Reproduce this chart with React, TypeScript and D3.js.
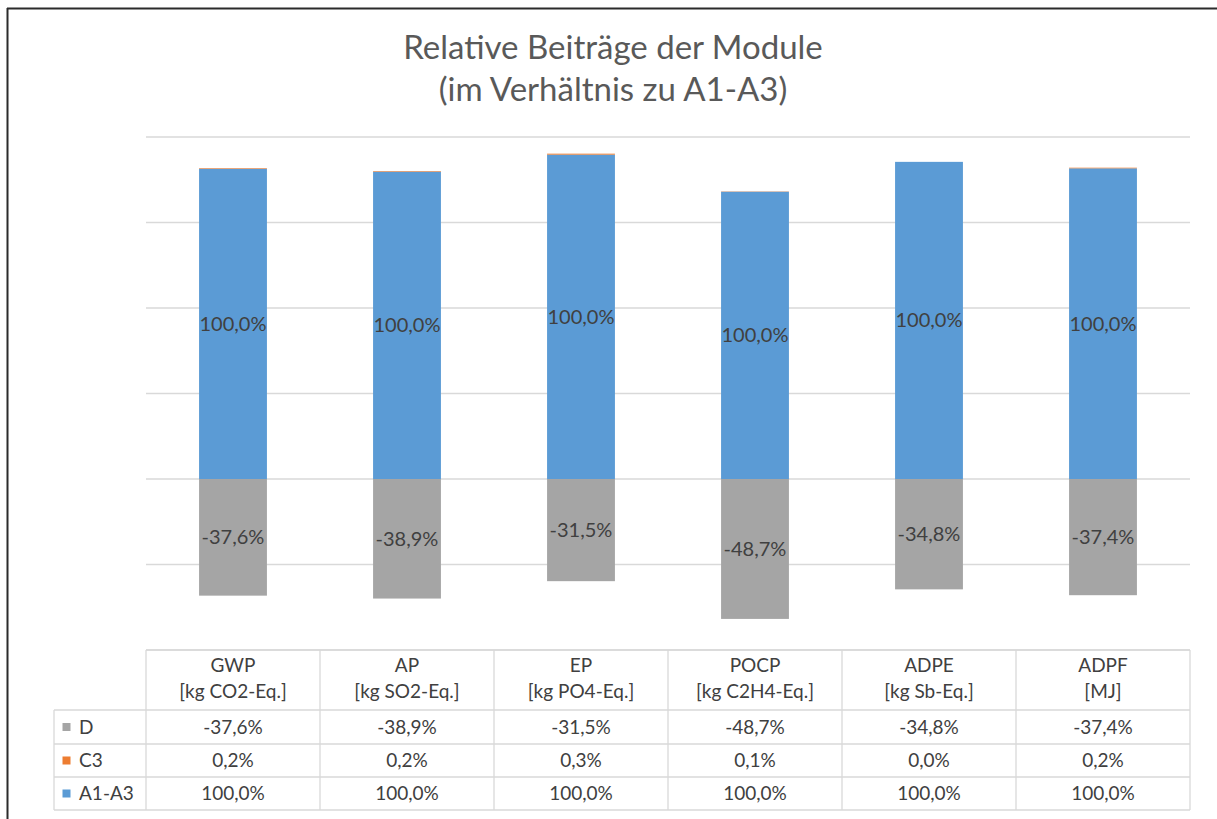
import React from "react";
import * as d3 from "d3";

const categories = ["GWP", "AP", "EP", "POCP", "ADPE", "ADPF"];
const units = ["[kg CO2-Eq.]", "[kg SO2-Eq.]", "[kg PO4-Eq.]", "[kg C2H4-Eq.]", "[kg Sb-Eq.]", "[MJ]"];
const seriesA1A3 = [100.0, 100.0, 100.0, 100.0, 100.0, 100.0];
const seriesC3 = [0.2, 0.2, 0.3, 0.1, 0.0, 0.2];
const seriesD = [-37.6, -38.9, -31.5, -48.7, -34.8, -37.4];
const gridTicks = [-0.4, -0.2, 0, 0.2, 0.4, 0.6, 0.8];
const title = ["Relative Beiträge der Module", "(im Verhältnis zu A1-A3)"];

const COLORS = { A: "#5B9BD5", C: "#ED7D31", D: "#A5A5A5" };
const FONT = "Lato, 'Open Sans', sans-serif";
const fmt = (v: number) => v.toFixed(1).replace(".", ",") + "%";

export default function App() {
  const W = 1217, H = 819;
  const left = 146, right = 1190;
  const x = d3.scaleBand().domain(categories).range([left, right]).paddingInner(0.61).paddingOuter(0.305);
  const y = d3.scaleLinear().domain([-0.4, 0.8]).range([650, 137]);
  const colW = (right - left) / categories.length;

  const rows = categories.map((c, i) => {
    const total = Math.abs(seriesA1A3[i]) + Math.abs(seriesC3[i]) + Math.abs(seriesD[i]);
    const a = seriesA1A3[i] / total;
    const cc = seriesC3[i] / total;
    const dd = seriesD[i] / total;
    return { c, a, cc, dd };
  });

  const tableRows = [
    { name: "D", color: COLORS.D, vals: seriesD },
    { name: "C3", color: COLORS.C, vals: seriesC3 },
    { name: "A1-A3", color: COLORS.A, vals: seriesA1A3 },
  ];
  const rowY = [710, 744, 777, 810];
  const labelLeft = 54;

  return (
    <svg width={W} height={H} style={{ position: "absolute", left: 0, top: 0, background: "#fff" }} fontFamily={FONT}>
      <rect x={0} y={0} width={W} height={H} fill="#fff" />
      <line x1={7} x2={W} y1={8.5} y2={8.5} stroke="#2b2b2b" strokeWidth={2} />
      <line x1={7.5} x2={7.5} y1={8} y2={H} stroke="#2b2b2b" strokeWidth={2} />
      {title.map((t, i) => (
        <text key={i} x={613} y={59 + i * 42} textAnchor="middle" fontSize={33} fill="#595959">{t}</text>
      ))}
      {gridTicks.map((t) => (
        <line key={t} x1={left} x2={right} y1={y(t)} y2={y(t)} stroke="#D9D9D9" strokeWidth={1.3} />
      ))}
      {rows.map((r) => {
        const bx = x(r.c)!;
        const bw = x.bandwidth();
        return (
          <g key={r.c}>
            <rect x={bx} y={y(r.a)} width={bw} height={y(0) - y(r.a)} fill={COLORS.A} />
            <rect x={bx} y={y(r.a + r.cc)} width={bw} height={Math.max(y(r.a) - y(r.a + r.cc), 0)} fill={COLORS.C} />
            <rect x={bx} y={y(0)} width={bw} height={y(r.dd) - y(0)} fill={COLORS.D} />
          </g>
        );
      })}
      {rows.map((r, i) => {
        const cx = x(r.c)! + x.bandwidth() / 2;
        return (
          <g key={"l" + r.c} fontSize={20} fill="#404040" textAnchor="middle">
            <text x={cx} y={y(r.a / 2)} dy="0.35em">{fmt(seriesA1A3[i])}</text>
            <text x={cx} y={y(r.dd / 2)} dy="0.35em">{fmt(seriesD[i])}</text>
          </g>
        );
      })}
      {/* data table */}
      <g stroke="#D9D9D9" strokeWidth={1.3} fill="none">
        <line x1={left} x2={right} y1={650} y2={650} />
        {rowY.map((ry) => (
          <line key={ry} x1={labelLeft} x2={right} y1={ry} y2={ry} />
        ))}
        <line x1={labelLeft} x2={labelLeft} y1={rowY[0]} y2={rowY[3]} />
        {d3.range(categories.length + 1).map((k) => (
          <line key={k} x1={left + k * colW} x2={left + k * colW} y1={650} y2={rowY[3]} />
        ))}
      </g>
      {categories.map((c, i) => {
        const cx = left + colW * (i + 0.5);
        return (
          <g key={"h" + c} fontSize={19} fill="#404040" textAnchor="middle">
            <text x={cx} y={672}>{c}</text>
            <text x={cx} y={698}>{units[i]}</text>
          </g>
        );
      })}
      {tableRows.map((tr, ri) => {
        const cyMid = (rowY[ri] + rowY[ri + 1]) / 2;
        return (
          <g key={tr.name} fontSize={19} fill="#404040">
            <rect x={62.5} y={cyMid - 4} width={8} height={8} fill={tr.color} />
            <text x={79} y={cyMid} dy="0.35em">{tr.name}</text>
            {tr.vals.map((v, i) => (
              <text key={i} x={left + colW * (i + 0.5)} y={cyMid} dy="0.35em" textAnchor="middle">{fmt(v)}</text>
            ))}
          </g>
        );
      })}
    </svg>
  );
}
